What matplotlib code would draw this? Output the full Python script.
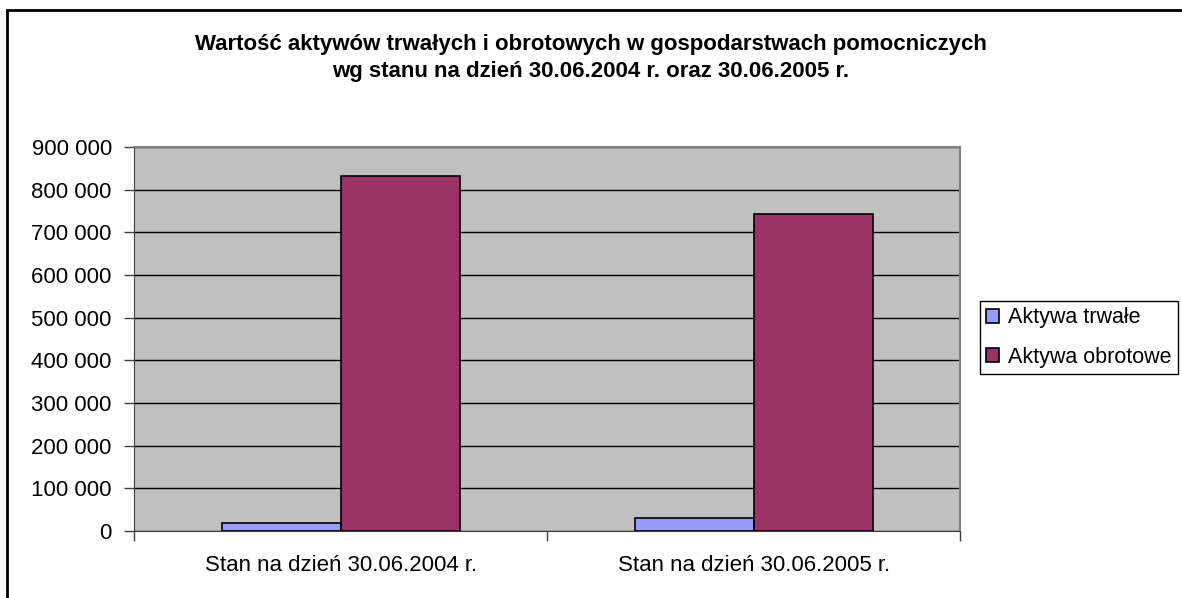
import numpy as np
import matplotlib.pyplot as plt
from matplotlib.patches import Rectangle
from matplotlib.ticker import FuncFormatter, FixedLocator

plt.rcParams['font.family'] = ['Liberation Sans', 'DejaVu Sans']

categories = ["Stan na dzień 30.06.2004 r.", "Stan na dzień 30.06.2005 r."]
series = ["Aktywa trwałe", "Aktywa obrotowe"]
trwale = [18000, 31000]
obrotowe = [832000, 744000]
colors = ["#9999FF", "#993366"]

fig = plt.figure(figsize=(11.82, 5.98), dpi=100)
ax = fig.add_axes([0.1134, 0.112, 0.699, 0.642])
ax.set_facecolor("#C0C0C0")

x = np.arange(len(categories))
w = 0.288
ax.bar(x - w / 2, trwale, w, color=colors[0], edgecolor="black", linewidth=1.2,
       label=series[0], zorder=3)
ax.bar(x + w / 2, obrotowe, w, color=colors[1], edgecolor="black", linewidth=1.2,
       label=series[1], zorder=3)

ax.set_xlim(-0.5, len(categories) - 0.5)
ax.set_ylim(0, 900000)
ax.set_yticks(np.arange(0, 900001, 100000))
ax.yaxis.set_major_formatter(FuncFormatter(lambda v, p: f"{int(v):,}".replace(",", " ")))
ax.grid(axis="y", color="black", linewidth=1.0, zorder=1)

ax.set_xticks(x)
ax.set_xticklabels(categories, fontsize=16)
ax.xaxis.set_minor_locator(FixedLocator([-0.5, 0.5, 1.5]))
ax.tick_params(axis="x", which="major", length=0, pad=17)
ax.tick_params(axis="x", which="minor", length=7, width=1, color="#404040")
ax.tick_params(axis="y", length=7, width=1, color="#404040", labelsize=16, pad=9)

for side in ["top", "right"]:
    ax.spines[side].set_color("#808080")
    ax.spines[side].set_linewidth(1.5)
ax.spines["left"].set_color("#404040")
ax.spines["bottom"].set_color("#404040")

fig.text(0.5, 0.925, "Wartość aktywów trwałych i obrotowych w gospodarstwach pomocniczych",
         ha="center", va="center", fontsize=16, fontweight="bold")
fig.text(0.5, 0.88, "wg stanu na dzień 30.06.2004 r. oraz 30.06.2005 r.",
         ha="center", va="center", fontsize=16, fontweight="bold")

leg = fig.legend(loc="upper left", bbox_to_anchor=(980 / 1182, 1 - 301 / 598),
                 borderaxespad=0, fontsize=15.5,
                 frameon=True, fancybox=False, edgecolor="black", framealpha=1,
                 handlelength=0.6, handleheight=0.6, handletextpad=0.4,
                 borderpad=0.3, labelspacing=0.85)
leg.get_frame().set_linewidth(1.0)

fig.patches.append(Rectangle((7 / 1182, -0.1), 1.2, 0.1 + 1 - 10 / 598,
                             transform=fig.transFigure,
                             fill=False, edgecolor="black", linewidth=2))

fig.savefig("out.png", dpi=100)
